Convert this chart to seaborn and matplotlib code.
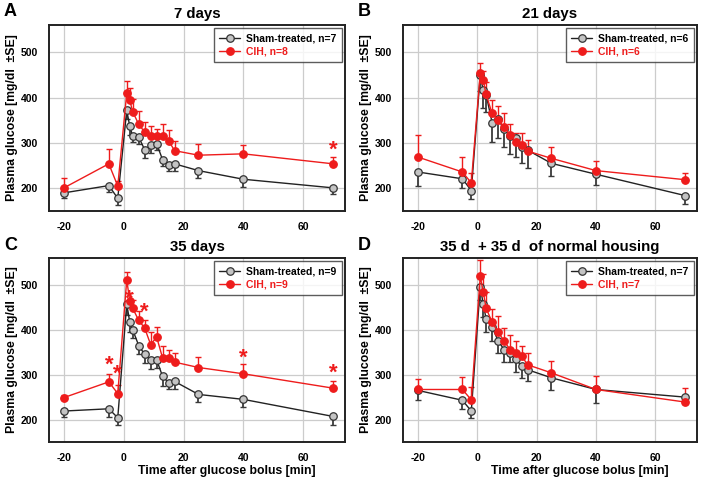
import numpy as np
import pandas as pd
import seaborn as sns
import matplotlib
matplotlib.use("Agg")
import matplotlib.pyplot as plt

# time points (min relative to glucose bolus)
t = [-20, -5, -2, 1, 2, 3, 5, 7, 9, 11, 13, 15, 17, 25, 40, 70]

# panel A: 7 days
sham_a = [190, 206, 178, 372, 337, 315, 313, 285, 295, 298, 263, 252, 254, 239, 220, 201]
sham_a_se = [12, 15, 14, 20, 20, 14, 15, 18, 18, 14, 14, 14, 16, 16, 18, 14]
cih_a = [201, 254, 205, 410, 394, 369, 341, 324, 315, 316, 315, 305, 283, 273, 276, 254]
cih_a_se = [22, 32, 12, 27, 28, 27, 30, 22, 22, 15, 26, 24, 21, 25, 20, 16]

# panel B: 21 days
sham_b = [236, 221, 195, 449, 416, 406, 345, 353, 330, 316, 310, 292, 284, 255, 231, 184]
sham_b_se = [31, 20, 18, 35, 40, 38, 44, 41, 38, 41, 41, 36, 39, 28, 24, 18]
cih_b = [269, 236, 212, 454, 438, 407, 365, 350, 336, 318, 301, 295, 282, 266, 239, 219]
cih_b_se = [48, 33, 22, 22, 20, 27, 30, 32, 30, 24, 22, 28, 24, 24, 21, 14]

# panel C: 35 days
sham_c = [219, 224, 204, 458, 417, 400, 365, 345, 333, 333, 296, 282, 285, 256, 245, 207]
sham_c_se = [14, 18, 16, 25, 22, 18, 18, 20, 20, 18, 22, 15, 18, 16, 16, 20]
cih_c = [249, 284, 258, 511, 465, 448, 421, 404, 367, 384, 337, 337, 328, 316, 302, 270]
cih_c_se = [5, 18, 18, 17, 17, 19, 20, 18, 27, 22, 26, 19, 21, 23, 22, 17]
stars_c_x = [-5, -2, 2, 7, 40, 70]
stars_c_y = [320, 302, 468, 439, 337, 304]

# panel D: 35 d + 35 d of normal housing
sham_d = [265, 243, 219, 496, 458, 424, 406, 376, 356, 349, 334, 319, 311, 293, 267, 250]
sham_d_se = [22, 20, 15, 30, 30, 28, 32, 27, 27, 21, 28, 26, 26, 28, 30, 16]
cih_d = [267, 267, 244, 519, 485, 448, 417, 395, 376, 356, 349, 341, 322, 304, 267, 239]
cih_d_se = [24, 27, 28, 37, 39, 36, 30, 35, 28, 32, 27, 24, 27, 26, 30, 32]

panels = [
    ("A", "7 days", sham_a, sham_a_se, cih_a, cih_a_se, 7, 8, [70], [283]),
    ("B", "21 days", sham_b, sham_b_se, cih_b, cih_b_se, 6, 6, [], []),
    ("C", "35 days", sham_c, sham_c_se, cih_c, cih_c_se, 9, 9, stars_c_x, stars_c_y),
    ("D", "35 d  + 35 d  of normal housing", sham_d, sham_d_se, cih_d, cih_d_se, 7, 7, [], []),
]

sns.set_style("white")
plt.rcParams["font.family"] = ["Liberation Sans", "DejaVu Sans"]
plt.rcParams["font.weight"] = "bold"
plt.rcParams["text.color"] = "black"
plt.rcParams["axes.labelcolor"] = "black"
plt.rcParams["xtick.color"] = "black"
plt.rcParams["ytick.color"] = "black"
plt.rcParams["axes.unicode_minus"] = False

W, H = 708, 478
fig = plt.figure(figsize=(W / 100, H / 100), dpi=100)

# axes boxes in pixels: left, top, right, bottom
boxes = [(49, 25, 345, 211), (403, 25, 697, 211), (49, 258, 345, 442), (403, 258, 697, 442)]
letter_pos = [(4, 12), (358, 12), (4, 245), (358, 245)]

red = "#ee1c1c"
gray_edge = "#333333"

for i, (letter, title, sham, sham_se, cih, cih_se, n_s, n_c, sx, sy) in enumerate(panels):
    l, tp, r, b = boxes[i]
    ax = fig.add_axes([l / W, 1 - b / H, (r - l) / W, (b - tp) / H])
    df = pd.DataFrame({"t": t * 2,
                       "glucose": sham + cih,
                       "group": ["sham"] * len(t) + ["cih"] * len(t)})

    # one-sided error bars: sham down, CIH up
    ax.errorbar(t, sham, yerr=[sham_se, [0] * len(t)], fmt="none", ecolor="#3a3a3a",
                elinewidth=1.3, capsize=2.2, capthick=1.0, zorder=2)
    ax.errorbar(t, cih, yerr=[[0] * len(t), cih_se], fmt="none", ecolor=red,
                elinewidth=1.0, capsize=2.2, capthick=1.0, zorder=2)

    sns.lineplot(data=df[df["group"] == "sham"], x="t", y="glucose",
                 color="#222222", linewidth=1.0, marker="o", markersize=5.4,
                 markerfacecolor="#c4c4c4", markeredgecolor=gray_edge, markeredgewidth=0.9,
                 label=f"Sham-treated, n={n_s}", ax=ax, zorder=3)
    sns.lineplot(data=df[df["group"] == "cih"], x="t", y="glucose",
                 color=red, linewidth=1.0, marker="o", markersize=5.4,
                 markerfacecolor=red, markeredgecolor=red, markeredgewidth=0.9,
                 label=f"CIH, n={n_c}", ax=ax, zorder=4)

    for x, y in zip(sx, sy):
        ax.text(x, y, "*", color=red, fontsize=16, ha="center", va="center", zorder=5)

    ax.set_xlim(-25, 74)
    ax.set_ylim(150, 560)
    ax.set_xticks([-20, 0, 20, 40, 60])
    ax.set_yticks([200, 300, 400, 500])
    ax.grid(True, color="#cccccc", linewidth=0.9)
    ax.set_axisbelow(True)
    for s in ax.spines.values():
        s.set_color("#222222")
        s.set_linewidth(1.4)
    ax.tick_params(axis="both", direction="out", length=3, width=1.0, labelsize=7.5,
                   color="#333333", labelcolor="black", pad=5)
    for lab in ax.get_xticklabels() + ax.get_yticklabels():
        lab.set_fontweight("bold")

    ax.set_ylabel("Plasma glucose [mg/dl  ±SE]", fontsize=8.8, fontweight="bold",
                  labelpad=2, color="black")
    if i >= 2:
        ax.set_xlabel("Time after glucose bolus [min]", fontsize=8.8, fontweight="bold",
                      color="black")
        ax.xaxis.set_label_coords(0.6, -0.125)
    else:
        ax.set_xlabel("")
    ax.set_title(title, fontsize=10.8, fontweight="bold", pad=5, color="black")

    leg = ax.legend(loc="upper right", frameon=True, fancybox=False,
                    borderpad=0.5, handlelength=2.0, handletextpad=0.6,
                    borderaxespad=0.3, labelspacing=0.35, prop={"weight": "bold", "size": 7.5})
    leg.get_frame().set_edgecolor("#333333")
    leg.get_frame().set_linewidth(1.0)
    leg.get_texts()[0].set_color("black")
    leg.get_texts()[1].set_color(red)

    fig.text(letter_pos[i][0] / W, 1 - letter_pos[i][1] / H, letter, fontsize=13,
             fontweight="bold", va="center", ha="left", color="black")

fig.savefig("out.png", dpi=100)
